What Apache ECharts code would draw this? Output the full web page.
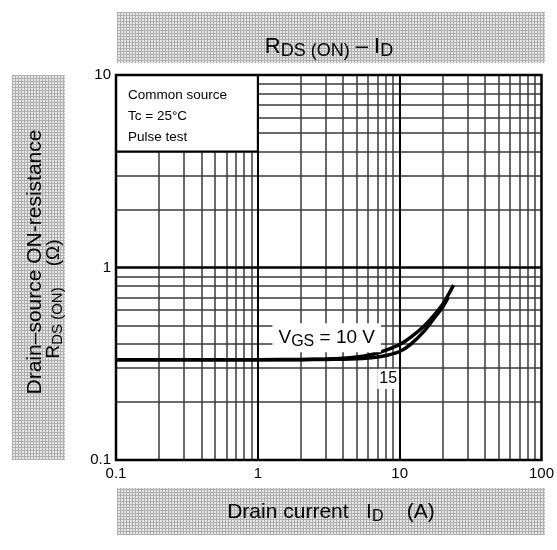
<!DOCTYPE html>
<html><head><meta charset="utf-8">
<script src="https://cdn.jsdelivr.net/npm/echarts@6/dist/echarts.min.js"></script>
<style>html,body{margin:0;padding:0;background:#fff}#c{width:557px;height:550px}</style>
</head><body><div id="c"></div>
<script>
// ---- data ----
const xMajor = [1, 10];
const yMajor = [1];
const xMinor = [0.2,0.3,0.4,0.5,0.6,0.7,0.8,0.9, 2,3,4,5,6,7,8,9, 20,30,40,50,60,70,80,90];
const yMinor = [0.2,0.3,0.4,0.5,0.6,0.7,0.8,0.9, 2,3,4,5,6,7,8,9];
const id10 = [0.1, 0.5, 1, 2, 3, 4, 5, 6, 7, 8, 10, 12, 15, 18, 20, 22, 24];
const r10  = [0.332,0.332,0.332,0.333,0.335,0.338,0.343,0.350,0.360,0.372,0.398,0.435,0.50,0.58,0.64,0.72,0.81];
const id15 = [0.1, 0.5, 1, 2, 3, 4, 5, 6, 7, 8, 10, 12, 15, 18, 20, 22];
const r15  = [0.332,0.332,0.332,0.332,0.333,0.334,0.336,0.339,0.343,0.349,0.366,0.40,0.47,0.56,0.62,0.70];
const boxText = ['Common source', 'Tc = 25°C', 'Pulse test'];

// ---- hatch pattern ----
const pc = document.createElement('canvas');
pc.width = 3; pc.height = 3;
const g = pc.getContext('2d');
g.fillStyle = '#e6e6e6'; g.fillRect(0,0,3,3);
g.fillStyle = '#afafaf'; g.fillRect(0,0,3,1); g.fillRect(0,0,1,3);
const hatch = {image: pc, repeat: 'repeat'};

const FONT = '"Liberation Sans", Arial, sans-serif';
const chart = echarts.init(document.getElementById('c'));

function vLines(vals, w, c) { return vals.map(v => ({xAxis: v, lineStyle: {width: w, color: c, type: 'solid'}})); }
function hLines(vals, w, c) { return vals.map(v => ({yAxis: v, lineStyle: {width: w, color: c, type: 'solid'}})); }

const sub = {fontSize: 16, fontFamily: FONT, color: '#000', padding: [9,0,0,0]};
const subT = {fontSize: 18, fontFamily: FONT, color: '#000', padding: [9,0,0,0]};

chart.setOption({
  animation: false,
  backgroundColor: '#fff',
  textStyle: {fontFamily: FONT},
  grid: {left: 116, right: 13, top: 75, bottom: 90, show: true, borderColor: '#000', borderWidth: 2.5, backgroundColor: 'transparent', z: 8},
  xAxis: {type: 'log', logBase: 10, min: 0.1, max: 100,
    axisLine: {show: false}, axisTick: {show: false}, splitLine: {show: false},
    axisLabel: {color: '#000', fontSize: 15, margin: 6, fontFamily: FONT}},
  yAxis: {type: 'log', logBase: 10, min: 0.1, max: 10,
    axisLine: {show: false}, axisTick: {show: false}, splitLine: {show: false},
    axisLabel: {color: '#000', fontSize: 15, margin: 5, fontFamily: FONT}},
  graphic: [
    {type: 'rect', shape: {x: 117, y: 12, width: 428, height: 51}, style: {fill: hatch}, silent: true, z: 0},
    {type: 'rect', shape: {x: 12, y: 75, width: 53, height: 385}, style: {fill: hatch}, silent: true, z: 0},
    {type: 'rect', shape: {x: 117, y: 488, width: 428, height: 47}, style: {fill: hatch}, silent: true, z: 0},
    {type: 'text', x: 329, y: 47, z: 5, style: {text: 'R{s|DS (ON)} – I{s|D}', rich: {s: subT}, fontSize: 22, fontFamily: FONT, fill: '#000', align: 'center', verticalAlign: 'middle'}},
    {type: 'text', x: 331, y: 512, z: 5, style: {text: 'Drain current   I{s|D}    (A)', rich: {s: sub}, fontSize: 21, fontFamily: FONT, fill: '#000', align: 'center', verticalAlign: 'middle'}},
    {type: 'text', x: 35, y: 262, rotation: Math.PI/2, z: 5, style: {text: 'Drain–source ON-resistance', fontSize: 21, fontFamily: FONT, fill: '#000', align: 'center', verticalAlign: 'middle'}},
    {type: 'text', x: 54, y: 299, rotation: Math.PI/2, z: 5, style: {text: 'R{s|DS (ON)}    (Ω)', rich: {s: {fontSize: 15, fontFamily: FONT, color: '#000', padding: [8,0,0,0]}}, fontSize: 19, fontFamily: FONT, fill: '#000', align: 'center', verticalAlign: 'middle'}}
  ],
  series: [
    {type: 'line', name: 'grid', data: [], z: 1, silent: true,
      markLine: {silent: true, z: 1, symbol: 'none', label: {show: false}, animation: false,
        data: [].concat(vLines(xMinor, 1.5, '#3a3a3a'), hLines(yMinor, 1.5, '#3a3a3a'), vLines(xMajor, 2, '#000'), hLines(yMajor, 2.5, '#000'))}},
    {type: 'line', name: 'box', data: [], z: 3, silent: true,
      markArea: {silent: true, z: 6,
        itemStyle: {color: '#fff', borderColor: '#000', borderWidth: 2, opacity: 1},
        label: {show: true, position: 'insideTopLeft', offset: [8, 6], formatter: boxText.join('\n'), fontSize: 13.5, lineHeight: 21, color: '#000', fontFamily: FONT},
        data: [[{coord: [0.1, 10]}, {coord: [1, 4]}]]}},
    {type: 'line', name: '15 V', z: 10, data: id15.map((x, i) => [x, r15[i]]), showSymbol: false, smooth: 0.3,
      lineStyle: {color: '#000', width: 3.5},
      markPoint: {z: 12, symbol: 'rect', symbolSize: 1, itemStyle: {color: 'rgba(0,0,0,0)'},
        label: {show: true, position: 'inside', formatter: '15', fontSize: 16, color: '#000', backgroundColor: '#fff', padding: [2, 2], fontFamily: FONT},
        data: [{coord: [8.3, 0.264]}]}},
    {type: 'line', name: '10 V', z: 10, data: id10.map((x, i) => [x, r10[i]]), showSymbol: false, smooth: 0.3,
      lineStyle: {color: '#000', width: 3.5},
      markPoint: {z: 12, symbol: 'rect', symbolSize: 1, itemStyle: {color: 'rgba(0,0,0,0)'},
        label: {show: true, position: 'inside', formatter: 'V{s|GS} = 10 V', rich: {s: {fontSize: 16, fontFamily: FONT, color: '#000', padding: [7,0,0,0]}}, fontSize: 19, color: '#000', backgroundColor: '#fff', padding: [3, 6], fontFamily: FONT},
        data: [{coord: [3.06, 0.432]}]}}
  ]
});
</script></body></html>
